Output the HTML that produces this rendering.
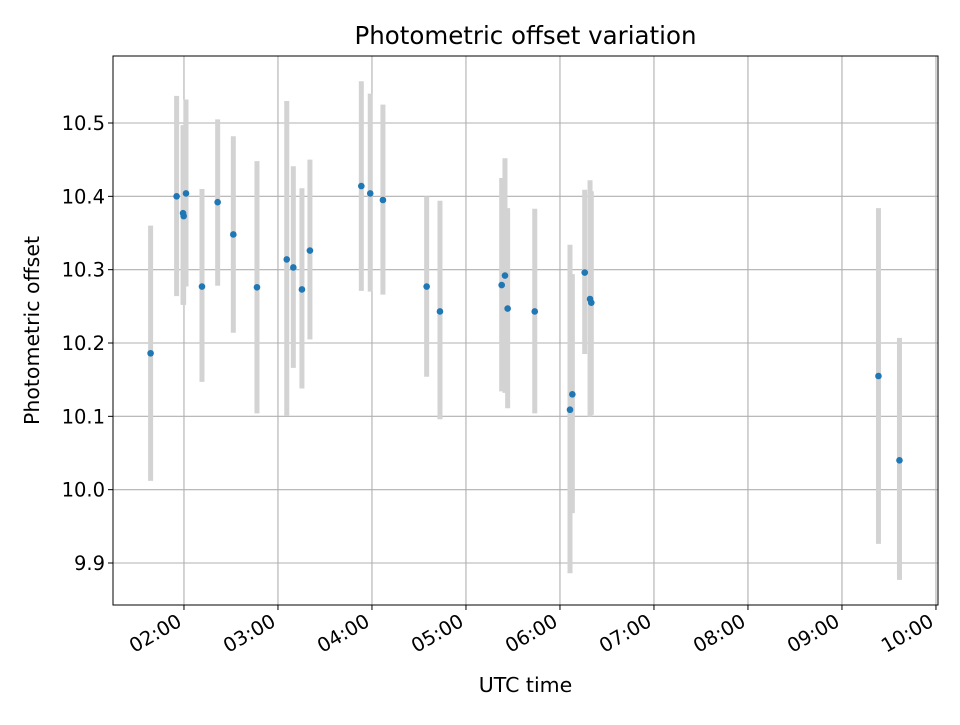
<!DOCTYPE html>
<html><head><meta charset="utf-8"><style>
body{margin:0;background:#fff;}
svg text{font-family:"DejaVu Sans","Liberation Sans",sans-serif;fill:#000;}
</style></head><body>
<svg id="chart" width="960" height="720" xmlns="http://www.w3.org/2000/svg"></svg>
<script>
const times=[98.7,115.3,119.4,119.8,121.3,131.5,141.5,151.5,166.6,185.6,189.8,195.3,200.4,233.2,238.9,247.0,274.9,283.4,322.8,324.9,326.6,343.9,366.4,367.9,375.8,379.2,380.0,563.3,576.7];
const values=[10.186,10.400,10.377,10.373,10.404,10.277,10.392,10.348,10.276,10.314,10.303,10.273,10.326,10.414,10.404,10.395,10.277,10.243,10.279,10.292,10.247,10.243,10.109,10.130,10.296,10.260,10.255,10.155,10.040];
const errLow=[10.012,10.264,10.252,10.252,10.277,10.147,10.278,10.214,10.104,10.101,10.166,10.138,10.205,10.271,10.270,10.266,10.154,10.096,10.134,10.132,10.111,10.104,9.886,9.968,10.185,10.100,10.102,9.926,9.877];
const errHigh=[10.360,10.537,10.497,10.497,10.532,10.410,10.505,10.482,10.448,10.530,10.441,10.411,10.450,10.557,10.540,10.525,10.400,10.394,10.425,10.452,10.384,10.383,10.334,10.294,10.409,10.422,10.407,10.384,10.207];
const yTicks=[9.9,10.0,10.1,10.2,10.3,10.4,10.5];
const yTickLabels=["9.9","10.0","10.1","10.2","10.3","10.4","10.5"];
const xTicks=[120,180,240,300,360,420,480,540,600];
const xTickLabels=["02:00","03:00","04:00","05:00","06:00","07:00","08:00","09:00","10:00"];

const L=113,R=938,T=56,B=605;
const xMin=74.7,xMax=601.3;
function X(t){return L+(t-xMin)/(xMax-xMin)*(R-L);}
function Y(v){return 123+(10.5-v)*733.33;}
const svg=document.getElementById('chart');
const NS='http://www.w3.org/2000/svg';
function mk(tag,attrs,parent){const e=document.createElementNS(NS,tag);for(const k in attrs)e.setAttribute(k,attrs[k]);(parent||svg).appendChild(e);return e;}

const grid=mk('g',{});


yTicks.forEach((v,i)=>{
  const y=Y(v);
  mk('line',{x1:L,x2:R,y1:y,y2:y,stroke:'#b0b0b0','stroke-width':1.1},grid);
  mk('line',{x1:L-5,x2:L,y1:y,y2:y,stroke:'#000','stroke-width':1},grid);
  const t=mk('text',{x:L-8,y:y+7,'text-anchor':'end','font-size':19.5});
  t.textContent=yTickLabels[i];
  
  
});
xTicks.forEach((v,i)=>{
  const x=X(v);
  mk('line',{x1:x,x2:x,y1:T,y2:B,stroke:'#b0b0b0','stroke-width':1.1},grid);
  mk('line',{x1:x,x2:x,y1:B,y2:B+5,stroke:'#000','stroke-width':1},grid);
  const ax=x-1, ay=B+20;
  const t=mk('text',{x:ax,y:ay,'text-anchor':'end','font-size':19.5,transform:`rotate(-30 ${ax} ${ay})`});
  t.textContent=xTickLabels[i];
  
  
});
const errs=mk('g',{});


times.forEach((t,i)=>{
  const e=mk('line',{x1:X(t),x2:X(t),y1:Y(errHigh[i]),y2:Y(errLow[i]),stroke:'#d3d3d3','stroke-width':5},errs);
  
  
});
const pts=mk('g',{});


times.forEach((t,i)=>{
  const c=mk('circle',{cx:X(t),cy:Y(values[i]),r:3.3,fill:'#1f77b4'},pts);
  
  
});
const frame=mk('rect',{x:L,y:T,width:R-L,height:B-T,fill:'none',stroke:'#000','stroke-width':1});


const title=mk('text',{x:(L+R)/2,y:44,'text-anchor':'middle','font-size':24.5});
title.textContent='Photometric offset variation';


const xl=mk('text',{x:(L+R)/2,y:692,'text-anchor':'middle','font-size':20.5});
xl.textContent='UTC time';


const yl=mk('text',{x:39,y:(T+B)/2,'text-anchor':'middle','font-size':20.5,transform:`rotate(-90 39 ${(T+B)/2})`});
yl.textContent='Photometric offset';


</script>
</body></html>
